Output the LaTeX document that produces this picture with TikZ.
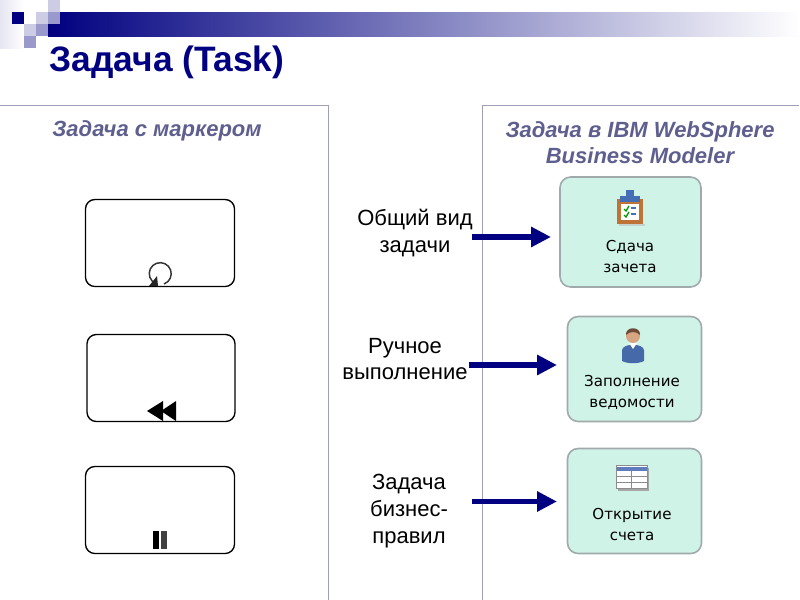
\documentclass[tikz,border=0pt]{standalone}
\usepackage{fontspec}
\setmainfont{Liberation Sans}
\newfontfamily\taskfont{DejaVu Sans}
\usetikzlibrary{arrows.meta}

\definecolor{slidenavy}{RGB}{0,0,128}
\definecolor{slidelight}{RGB}{204,204,229}
\definecolor{slidemid}{RGB}{153,153,204}
\definecolor{panelline}{RGB}{160,160,184}
\definecolor{headtext}{RGB}{95,95,143}
\definecolor{taskfill}{RGB}{208,243,232}
\definecolor{taskline}{RGB}{160,170,170}
\definecolor{clipbrown}{RGB}{190,115,55}
\definecolor{clipblue}{RGB}{70,110,180}
\definecolor{personblue}{RGB}{70,105,170}
\definecolor{personskin}{RGB}{215,165,130}
\definecolor{personhair}{RGB}{110,75,55}
\definecolor{tablehead}{RGB}{95,125,190}

\tikzset{
    panelrule/.style={draw=panelline, line width=0.75pt},
    headlabel/.style={font=\fontsize{16.5}{19.5}\selectfont\bfseries\itshape, text=headtext, align=center},
    sidelabel/.style={font=\fontsize{16.5}{20}\selectfont, align=center},
    markerbox/.style={draw=black, line width=1pt, rounded corners=7pt, inner sep=0pt},
    taskbox/.style={draw=taskline, fill=taskfill, line width=1.2pt, rounded corners=8pt, inner sep=0pt},
    tasklabel/.style={font=\fontsize{11.3}{15.75}\selectfont\taskfont, align=center},
    bigarrow/.style={draw=slidenavy, line width=4pt, -{Triangle[length=15pt,width=14.5pt,fill=slidenavy]}}
}

\begin{document}
\begin{tikzpicture}[x=0.75pt,y=-0.75pt]
    \useasboundingbox (0,0) rectangle (800,600);

    % Slide decoration
    \fill[left color=slidelight!50, right color=white] (0,0) rectangle (24,48);
    \shade[left color=slidenavy, right color=white] (48,12) rectangle (800,36);
    \fill[slidenavy] (12,12) rectangle (24,24);
    \fill[slidelight] (36,12) rectangle (48,24);
    \fill[slidelight] (48,0) rectangle (60,12);
    \fill[slidemid] (48,12) rectangle (60,24);
    \fill[slidelight] (24,24) rectangle (36,36);
    \fill[slidemid] (36,24) rectangle (48,36);
    \fill[slidemid] (24,36) rectangle (36,48);

    % Title
    \node[font=\fontsize{26.5}{30}\selectfont\bfseries, text=slidenavy] (title) at (167,62.5) {Задача (Task)};

    % Panels
    \draw[panelrule] (0,105.5) -- (328.5,105.5) -- (328.5,600);
    \draw[panelrule] (482.5,600) -- (482.5,105.5) -- (799,105.5);
    \node[headlabel] (headleft) at (157,131) {Задача с маркером};
    \node[headlabel] (headright) at (640,143) {Задача в IBM WebSphere\\Business Modeler};

    % Marker tasks
    \node[markerbox, minimum width=111.75pt, minimum height=65.25pt] (loopbox) at (160,243) {};
    \node[markerbox, minimum width=111pt, minimum height=65.25pt] (manualbox) at (161,378) {};
    \node[markerbox, minimum width=111.75pt, minimum height=65.25pt] (rulebox) at (160,510) {};

    % Loop marker
    \draw[line width=1.1pt, black!80] (164,284) arc (70:-250:11);
    \fill[black!85] (149,286) -- (158,286) -- (157,276) -- cycle;

    % Rewind marker
    \fill[black] (147,411) -- (163,401) -- (163,421) -- cycle;
    \fill[black] (161,411) -- (176,401) -- (176,421) -- cycle;

    % Pause marker
    \fill[black] (153,531) rectangle (158.5,549);
    \fill[black!75] (161,531) rectangle (167,549);

    % Labels in the middle
    \node[sidelabel] (lblgeneral) at (415,233) {Общий вид\\задачи};
    \node[sidelabel] (lblmanual) at (405,359) {Ручное\\выполнение};
    \node[sidelabel] (lblrule) at (409,511) {Задача\\бизнес-\\правил};

    % Modeler tasks
    \node[taskbox, minimum width=105.75pt, minimum height=82.5pt] (examtask) at (630.5,232) {};
    \node[taskbox, minimum width=100.5pt, minimum height=78.75pt] (recordtask) at (634.5,369) {};
    \node[taskbox, minimum width=100.5pt, minimum height=78.75pt] (accounttask) at (634.5,501) {};
    \node[tasklabel] (examlabel) at (630,256.5) {Сдача\\зачета};
    \node[tasklabel] (recordlabel) at (632,392.5) {Заполнение\\ведомости};
    \node[tasklabel] (accountlabel) at (632,524.5) {Открытие\\счета};

    % Clipboard icon
    \fill[black!25, opacity=0.6] (619,224) rectangle (645,226);
    \fill[clipbrown] (617,199) rectangle (643,224);
    \fill[white] (621,204) rectangle (639,220);
    \fill[clipblue] (620,196) rectangle (640,202);
    \fill[clipblue] (626,190) rectangle (634,197);
    \draw[green!60!black, line width=1pt] (624,209) -- (626,211) -- (629,206);
    \draw[green!60!black, line width=1pt] (624,215) -- (626,217) -- (629,212);
    \draw[clipblue, line width=1pt] (631,208) -- (636,208);
    \draw[clipblue, line width=1pt] (631,214) -- (636,214);

    % Person icon
    \fill[personblue] (622,361) -- (622,350) .. controls (623,343) and (643,343) .. (644,350) -- (644,361) .. controls (638,364) and (628,364) .. cycle;
    \fill[white] (629,343) -- (637,343) -- (633,349) -- cycle;
    \fill[personskin] (633,336) circle (7);
    \fill[personhair] (626,335) .. controls (625,326) and (641,326) .. (640,335) .. controls (636,331) and (630,331) .. cycle;

    % Table icon
    \fill[black!35] (618,468) rectangle (649,491);
    \fill[white] (616,465) rectangle (647,488);
    \fill[tablehead] (616,467) rectangle (647,471);
    \draw[black!45, line width=0.6pt] (616,476) -- (647,476) (616,482) -- (647,482) (631,471) -- (631,488) (616,465) rectangle (647,488);

    % Arrows
    \coordinate (tailgeneral) at (472,237);
    \coordinate (tipgeneral) at (551,237);
    \coordinate (tailmanual) at (469,365);
    \coordinate (tipmanual) at (557,365);
    \coordinate (tailrule) at (472,501.5);
    \coordinate (tiprule) at (557,501.5);
    \draw[bigarrow] (tailgeneral) -- (tipgeneral);
    \draw[bigarrow] (tailmanual) -- (tipmanual);
    \draw[bigarrow] (tailrule) -- (tiprule);
\end{tikzpicture}
\end{document}
